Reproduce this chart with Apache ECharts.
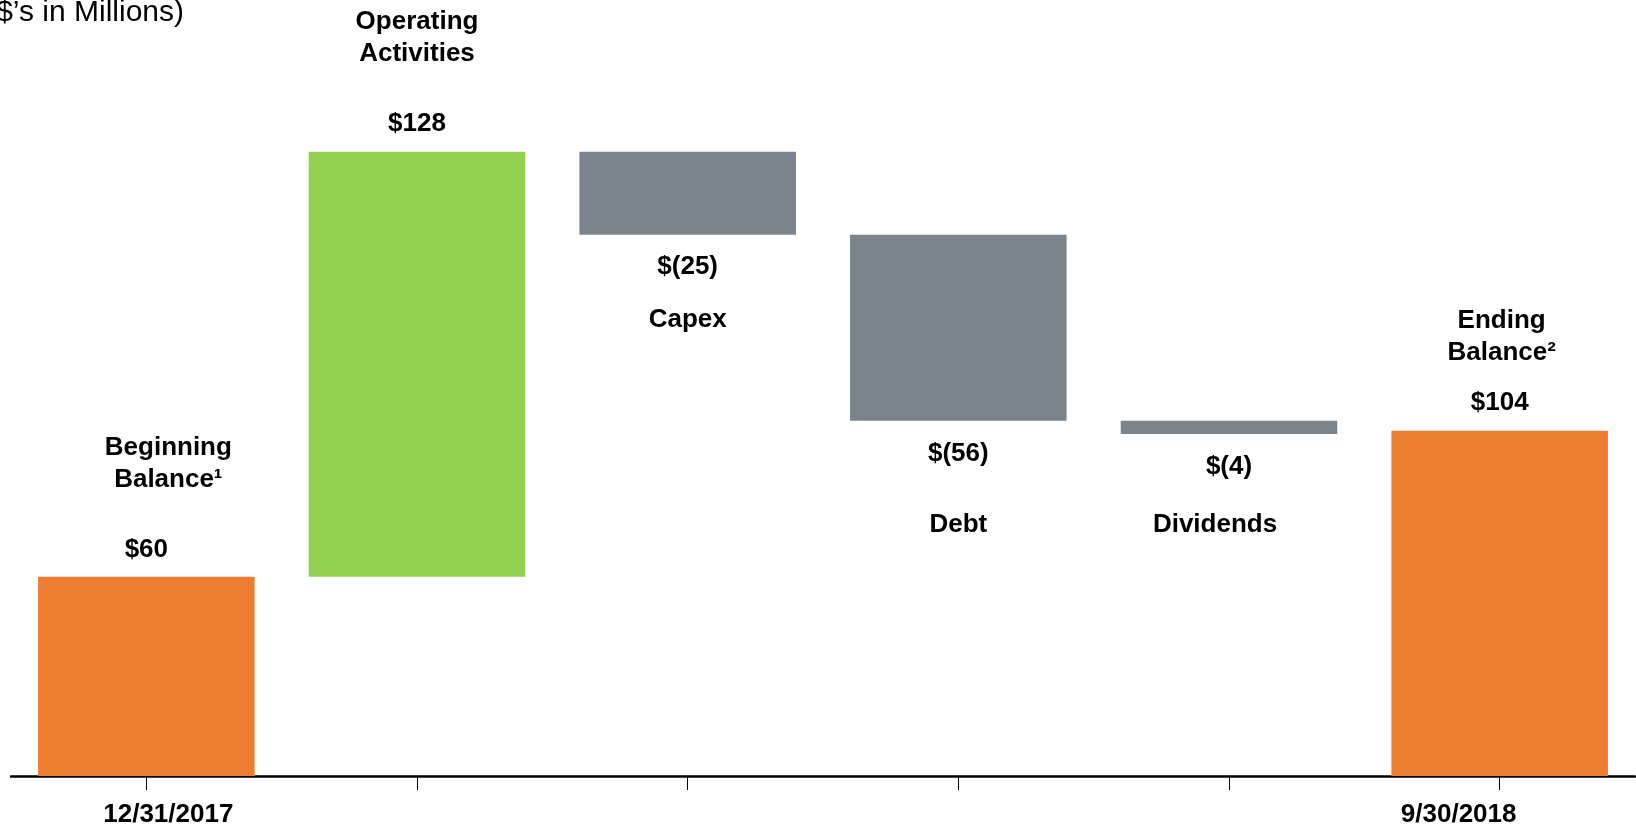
<!DOCTYPE html>
<html>
<head>
<meta charset="utf-8">
<title>Cash flow waterfall</title>
<script src="https://cdn.jsdelivr.net/npm/echarts@6/dist/echarts.min.js"></script>
<style>
  html, body { margin: 0; padding: 0; background: #fff; }
  #chart { width: 1636px; height: 830px; }
</style>
</head>
<body>
<div id="chart"></div>
<script>
// 数据
var categories = ['12/31/2017', '', '', '', '', '9/30/2018'];
var stepNames = ['Beginning\nBalance\u00b9', 'Operating\nActivities', 'Capex', 'Debt', 'Dividends', 'Ending\nBalance\u00b2'];
var stepValues = [60, 128, -25, -56, -4, 104];
var stepKinds = ['total', 'up', 'down', 'down', 'down', 'total'];
var valueLabels = ['$60', '$128', '$(25)', '$(56)', '$(4)', '$104'];

// 标签排版（样式，不是数据）
var labelGap = [41, 41, 24, 42, 29, 21];      // 数值与名称之间的空行高度
var labelDist = [14, 15, 19, 20, 20, 15];     // 数值离柱子的距离
var nameShift = [22, 0, 0, 0, -14, 2];        // 名称的水平偏移
var axisShift = [22, 0, 0, 0, 0, -41];        // 横轴标签的水平偏移

var colors = { total: '#ED7D31', up: '#92D050', down: '#7B838C' };
var font = '"Liberation Sans", Arial, Helvetica, sans-serif';

function shiftPad(s) {
    return s > 0 ? [0, 0, 0, 2 * s] : [0, 2 * -s, 0, 0];
}

function dealData() {
    var base = [], height = [];
    var running = 0;
    for (var i = 0; i < stepValues.length; i++) {
        var v = stepValues[i];
        if (stepKinds[i] == 'total') {
            base.push(0); height.push(v); running = v;
        } else if (v >= 0) {
            base.push(running); height.push(v); running += v;
        } else {
            running += v; base.push(running); height.push(-v);
        }
    }
    var barData = height.map(function (h, i) {
        var nameLines = stepNames[i].split('\n').map(function (t) { return '{n|' + t + '}'; }).join('\n');
        var isDown = stepKinds[i] == 'down';
        var text = isDown
            ? '{v|' + valueLabels[i] + '}\n{s| }\n' + nameLines
            : nameLines + '\n{s| }\n{v|' + valueLabels[i] + '}';
        return {
            value: h,
            itemStyle: { color: colors[stepKinds[i]] },
            label: {
                show: true,
                position: isDown ? 'bottom' : 'top',
                distance: labelDist[i],
                formatter: text,
                rich: {
                    n: { fontFamily: font, fontSize: 26, fontWeight: 'bold', color: '#000', lineHeight: 32, align: 'center', padding: shiftPad(nameShift[i]) },
                    v: { fontFamily: font, fontSize: 26, fontWeight: 'bold', color: '#000', lineHeight: 26, align: 'center' },
                    s: { fontSize: 4, lineHeight: labelGap[i], align: 'center' }
                }
            }
        };
    });
    draw(base, barData);
}

function draw(base, barData) {
    var axisRich = {};
    axisShift.forEach(function (s, i) {
        axisRich['c' + i] = { fontFamily: font, fontSize: 26, fontWeight: 'bold', color: '#000', padding: shiftPad(s) };
    });
    var option = {
        animation: false,
        backgroundColor: '#fff',
        grid: { left: 11, right: 1, top: 112, bottom: 54, containLabel: false },
        graphic: [{
            type: 'text',
            right: 1636 - 184,
            top: -2,
            style: {
                text: '($\u2019s in Millions)',
                font: '30px ' + font,
                fill: '#000'
            }
        }],
        xAxis: {
            type: 'category',
            data: categories,
            boundaryGap: true,
            axisLine: { lineStyle: { color: '#000', width: 2.5 } },
            axisTick: { show: true, alignWithLabel: true, interval: 0, length: 14, lineStyle: { color: '#000', width: 1 } },
            axisLabel: {
                interval: 0,
                margin: 26,
                fontFamily: font, fontSize: 26, fontWeight: 'bold', color: '#000',
                formatter: function (value, index) {
                    return value ? '{c' + index + '|' + value + '}' : '';
                },
                rich: axisRich
            },
            splitLine: { show: false }
        },
        yAxis: {
            type: 'value',
            min: 0,
            max: 200,
            show: false
        },
        series: [
            {
                type: 'bar',
                stack: 'w',
                silent: true,
                barWidth: '80%',
                itemStyle: { color: 'transparent' },
                data: base
            },
            {
                type: 'bar',
                stack: 'w',
                barWidth: '80%',
                data: barData
            }
        ]
    };
    var myChart = echarts.init(document.getElementById('chart'));
    myChart.setOption(option);
}

dealData();
</script>
</body>
</html>
